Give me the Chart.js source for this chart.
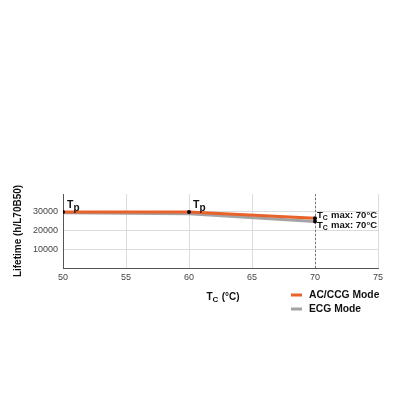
<!DOCTYPE html>
<html>
<head>
<meta charset="utf-8">
<script src="https://cdn.jsdelivr.net/npm/chart.js@4.4.0/dist/chart.umd.min.js"></script>
<style>
  html, body { margin: 0; padding: 0; background: #fff; }
  #wrap { width: 400px; height: 400px; position: relative; }
</style>
</head>
<body>
<div id="wrap"><canvas id="chart" width="400" height="400"></canvas></div>
<script>
// 温度 (Tc, °C)
const temps = [50, 60, 70];
// 寿命 (h/L70B50)
const acccgLife = [30000, 30000, 26600];
const ecgLife = [29600, 29000, 24900];
const xTicks = [50, 55, 60, 65, 70, 75];
const yTicks = [10000, 20000, 30000];

const ORANGE = '#e8622a';
const GREY = '#a3a3a3';
const FONT = '"Liberation Sans", Arial, sans-serif';

// 画带下标的文字, 如 T + c
function subText(ctx, x, y, main, sub, size, rest, subScale) {
  ctx.font = `bold ${size}px ${FONT}`;
  ctx.fillText(main, x, y);
  let w = ctx.measureText(main).width;
  ctx.font = `bold ${Math.round(size * (subScale || 0.75))}px ${FONT}`;
  ctx.fillText(sub, x + w, y + size * 0.28);
  w += ctx.measureText(sub).width;
  if (rest) {
    ctx.font = `bold ${size}px ${FONT}`;
    ctx.fillText(rest, x + w + 0.5, y);
    w += ctx.measureText(rest).width + 0.5;
  }
  return w;
}

const annotate = {
  id: 'annotate',
  beforeDatasetsDraw(chart) {
    const { ctx, chartArea, scales } = chart;
    const x70 = scales.x.getPixelForValue(70);
    ctx.save();
    ctx.strokeStyle = '#777';
    ctx.lineWidth = 1;
    ctx.setLineDash([2, 2]);
    ctx.beginPath();
    ctx.moveTo(x70 + 0.5, chartArea.top);
    ctx.lineTo(x70 + 0.5, chartArea.bottom);
    ctx.stroke();
    ctx.restore();
  },
  afterDraw(chart) {
    const { ctx, chartArea, scales } = chart;
    const xs = scales.x, ys = scales.y;
    ctx.save();
    ctx.fillStyle = '#111';
    ctx.textBaseline = 'middle';
    ctx.textAlign = 'left';

    // Tp 标签
    [0, 1].forEach(i => {
      const px = xs.getPixelForValue(temps[i]);
      const py = ys.getPixelForValue(acccgLife[i]);
      subText(ctx, px + 4, py - 7, 'T', 'p', 10.5, null, 0.95);
    });

    // Tc max 标签
    const px = xs.getPixelForValue(temps[2]);
    subText(ctx, px + 2, ys.getPixelForValue(acccgLife[2]) - 3, 'T', 'C', 9.5, ' max: 70°C');
    subText(ctx, px + 2, ys.getPixelForValue(ecgLife[2]) + 4, 'T', 'C', 9.5, ' max: 70°C');

    // x 轴标题
    const cx = (chartArea.left + chartArea.right) / 2;
    subText(ctx, cx - 14, chartArea.bottom + 29, 'T', 'C', 10, ' (°C)');

    // 图例
    const items = [
      { label: 'AC/CCG Mode', color: ORANGE },
      { label: 'ECG Mode', color: GREY }
    ];
    items.forEach((it, i) => {
      const y = chartArea.bottom + 27 + i * 14;
      ctx.strokeStyle = it.color;
      ctx.lineWidth = 3;
      ctx.beginPath();
      ctx.moveTo(291, y);
      ctx.lineTo(302, y);
      ctx.stroke();
      ctx.fillStyle = '#111';
      ctx.font = `bold 10.3px ${FONT}`;
      ctx.fillText(it.label, 309, y);
    });
    ctx.restore();
  }
};

new Chart(document.getElementById('chart'), {
  type: 'line',
  data: {
    datasets: [
      {
        label: 'AC/CCG Mode',
        data: temps.map((t, i) => ({ x: t, y: acccgLife[i] })),
        borderColor: ORANGE,
        borderWidth: 3,
        pointRadius: 2,
        pointBackgroundColor: '#000',
        pointBorderWidth: 0,
        tension: 0
      },
      {
        label: 'ECG Mode',
        data: temps.map((t, i) => ({ x: t, y: ecgLife[i] })),
        borderColor: GREY,
        borderWidth: 3,
        pointRadius: ctx => (ctx.dataIndex === 2 ? 2 : 0),
        pointBackgroundColor: '#000',
        pointBorderWidth: 0,
        tension: 0
      }
    ]
  },
  options: {
    responsive: false,
    animation: false,
    layout: { padding: { top: 194, right: 22, bottom: 117, left: 0 } },
    plugins: { legend: { display: false }, tooltip: { enabled: false } },
    scales: {
      x: {
        type: 'linear',
        min: 50,
        max: 75,
        afterBuildTicks: s => { s.ticks = xTicks.map(v => ({ value: v })); },
        afterFit: s => { s.height = 15; },
        grid: { color: '#dcdcdc', drawTicks: false },
        border: { color: '#555', width: 1 },
        ticks: { padding: 4, color: '#444', font: { family: FONT, size: 9 }, callback: v => String(v) }
      },
      y: {
        min: 0,
        max: 39600,
        afterBuildTicks: s => { s.ticks = yTicks.map(v => ({ value: v })); },
        afterFit: s => { s.width = 63; },
        grid: { color: '#dcdcdc', drawTicks: false },
        border: { color: '#555', width: 1 },
        ticks: { padding: 5, color: '#444', font: { family: FONT, size: 9 }, callback: v => String(v) },
        title: {
          display: true,
          text: 'Lifetime (h/L70B50)',
          color: '#111',
          padding: { top: 12, bottom: 0 },
          font: { family: FONT, size: 10, weight: 'bold' }
        }
      }
    }
  },
  plugins: [annotate]
});
</script>
</body>
</html>
